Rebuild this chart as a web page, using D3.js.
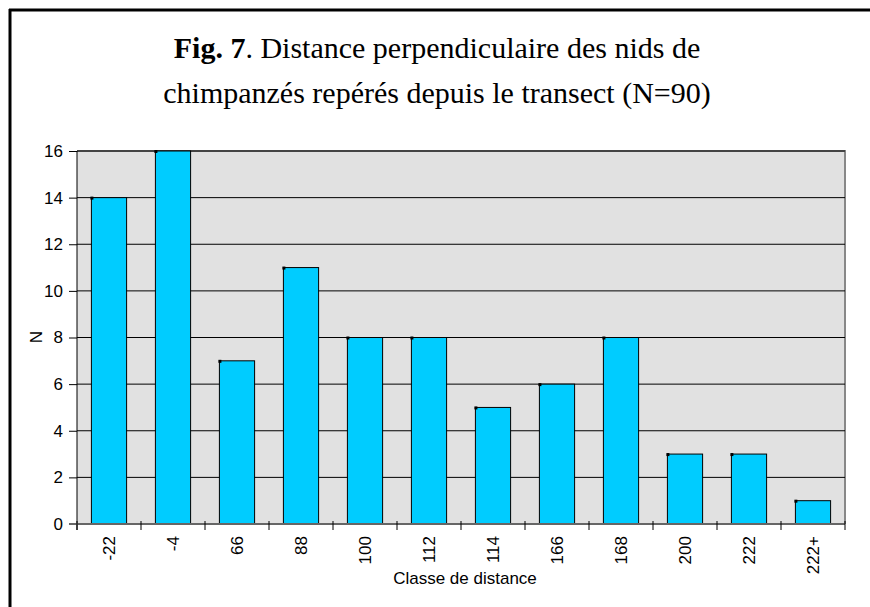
<!DOCTYPE html>
<html>
<head>
<meta charset="utf-8">
<script src="https://cdn.jsdelivr.net/npm/d3@7"></script>
<style>
  body { margin: 0; background: #fff; }
  svg { display: block; }
</style>
</head>
<body>
<div id="chart"></div>
<script>
// distance classes as they appear on the axis
var categories = ['-22', '-4', '66', '88', '100', '112', '114', '166', '168', '200', '222', '222+'];
var counts = [14, 16, 7, 11, 8, 8, 5, 6, 8, 3, 3, 1];
var yTicks = [0, 2, 4, 6, 8, 10, 12, 14, 16];

var width = 870, height = 607;
var margin = { top: 151, right: 25, bottom: 83, left: 77 };
var innerW = width - margin.left - margin.right;
var innerH = height - margin.top - margin.bottom;

var svg = d3.select('#chart').append('svg')
    .attr('width', width)
    .attr('height', height);

// outer frame (left + top only visible)
svg.append('line').attr('x1', 10).attr('x2', 10).attr('y1', 9).attr('y2', height)
    .attr('stroke', '#000').attr('stroke-width', 3);
svg.append('line').attr('x1', 9).attr('x2', width).attr('y1', 10).attr('y2', 10)
    .attr('stroke', '#000').attr('stroke-width', 3);

// title
var title = svg.append('text')
    .attr('text-anchor', 'middle')
    .style('font-family', '"Liberation Serif", "Times New Roman", serif')
    .style('font-size', '30px')
    .attr('fill', '#000');
var t1 = title.append('tspan').attr('x', 437).attr('y', 58);
t1.append('tspan').style('font-weight', 'bold').text('Fig. 7');
t1.append('tspan').text('. Distance perpendiculaire des nids de');
title.append('tspan').attr('x', 437).attr('y', 103)
    .text('chimpanzés repérés depuis le transect (N=90)');

var g = svg.append('g').attr('transform', 'translate(' + margin.left + ',' + margin.top + ')');

var x = d3.scaleBand().domain(categories).range([0, innerW]).paddingInner(0.45).paddingOuter(0.225);
var y = d3.scaleLinear().domain([0, 16]).range([innerH, 0]);

// plot background
g.append('rect').attr('width', innerW).attr('height', innerH).attr('fill', '#e1e1e1');
g.append('path')
    .attr('d', 'M0,0H' + innerW + 'V' + innerH)
    .attr('fill', 'none').attr('stroke', '#888').attr('stroke-width', 2);

// gridlines
g.selectAll('.grid').data(yTicks.filter(function (d) { return d > 0; }))
    .enter().append('line')
    .attr('x1', 0).attr('x2', innerW)
    .attr('y1', function (d) { return y(d); }).attr('y2', function (d) { return y(d); })
    .attr('stroke', '#000').attr('stroke-width', 1);

// bars
g.selectAll('.bar').data(counts).enter().append('rect')
    .attr('x', function (d, i) { return x(categories[i]); })
    .attr('y', function (d) { return y(d); })
    .attr('width', x.bandwidth())
    .attr('height', function (d) { return innerH - y(d); })
    .attr('fill', '#00ccff')
    .attr('stroke', '#000').attr('stroke-width', 1);

// little marker at bar corner
g.selectAll('.mark').data(counts).enter().append('rect')
    .attr('x', function (d, i) { return x(categories[i]) - 1; })
    .attr('y', function (d) { return y(d) - 1; })
    .attr('width', 3).attr('height', 3)
    .attr('fill', '#000');

// y axis
var yAxisG = g.append('g').call(d3.axisLeft(y).tickValues(yTicks).tickSize(8).tickPadding(6));
yAxisG.select('.domain').attr('stroke', '#000').attr('d', 'M0,0V' + (innerH + 6));
yAxisG.selectAll('.tick line').attr('stroke', '#000').attr('x1', -8).attr('x2', 0);
yAxisG.selectAll('text')
    .style('font-family', '"Liberation Sans", Arial, sans-serif')
    .style('font-size', '17px').attr('fill', '#000');

// x axis: tick marks between categories
var xAxisG = g.append('g').attr('transform', 'translate(0,' + innerH + ')');
xAxisG.append('line').attr('x1', -8).attr('x2', innerW).attr('y1', 0).attr('y2', 0)
    .attr('stroke', '#666').attr('stroke-width', 2);
var step = x.step();
xAxisG.selectAll('.sep').data(d3.range(categories.length + 1)).enter().append('line')
    .attr('x1', function (i) { return x(categories[0]) - step * 0.225 + i * step; })
    .attr('x2', function (i) { return x(categories[0]) - step * 0.225 + i * step; })
    .attr('y1', -3).attr('y2', 6)
    .attr('stroke', '#000');
xAxisG.selectAll('.lbl').data(categories).enter().append('text')
    .attr('transform', function (d) {
        return 'translate(' + (x(d) + x.bandwidth() / 2 + 6) + ',12) rotate(-90)';
    })
    .attr('text-anchor', 'end')
    .style('font-family', '"Liberation Sans", Arial, sans-serif')
    .style('font-size', '17px')
    .attr('fill', '#000')
    .text(function (d) { return d; });

// axis titles
svg.append('text')
    .attr('x', 465).attr('y', 584)
    .attr('text-anchor', 'middle')
    .style('font-family', '"Liberation Sans", Arial, sans-serif')
    .style('font-size', '17px')
    .text('Classe de distance');
svg.append('text')
    .attr('transform', 'translate(42,337) rotate(-90)')
    .attr('text-anchor', 'middle')
    .style('font-family', '"Liberation Sans", Arial, sans-serif')
    .style('font-size', '17px')
    .text('N');
</script>
</body>
</html>
